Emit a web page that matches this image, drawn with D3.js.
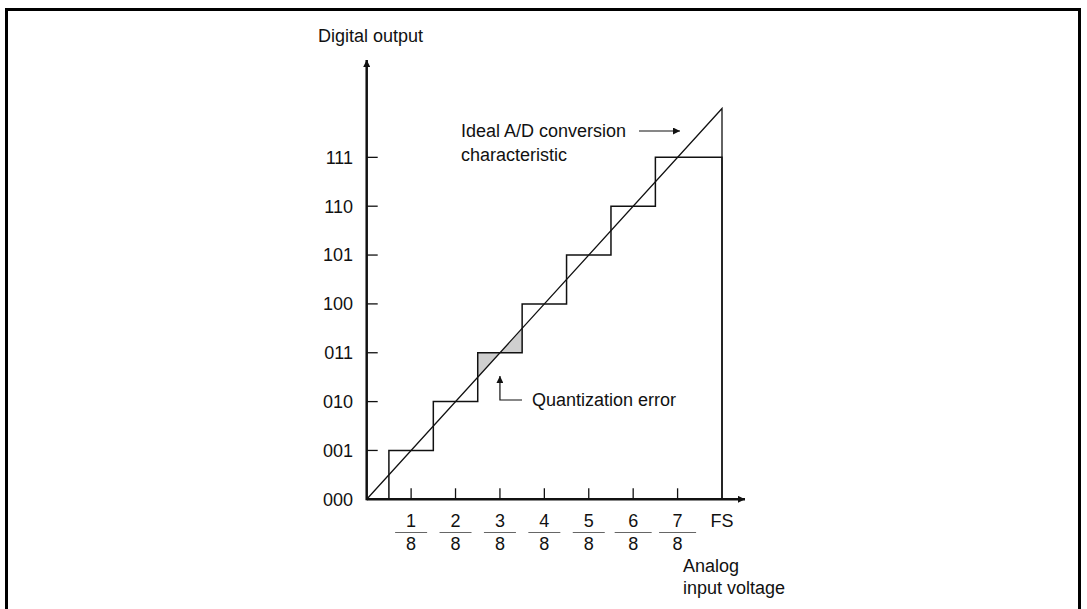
<!DOCTYPE html>
<html>
<head>
<meta charset="utf-8">
<script src="https://cdn.jsdelivr.net/npm/d3@7"></script>
<style>
  body { margin: 0; background: #fff; }
  text { font-family: "Liberation Sans", Arial, Helvetica, sans-serif; font-size: 18px; fill: #111; }
</style>
</head>
<body>
<div class="chart"></div>
<script>
'use strict'
// output codes, one per LSB level
var codes = ['000', '001', '010', '011', '100', '101', '110', '111']
// x tick labels (numerators over 8), then full scale
var numerators = ['1', '2', '3', '4', '5', '6', '7']
var denominator = '8'
var fullScaleLabel = 'FS'
// staircase: input (in 1/8 FS) where the code steps up, and the code reached
var stepInputs = [0.5, 1.5, 2.5, 3.5, 4.5, 5.5, 6.5]
var stepCodes = [1, 2, 3, 4, 5, 6, 7]
var fullScale = 8
// shaded quantization error example
var errorCode = 3
var errorRange = [2.5, 3.5]

var width = 1087
var height = 609

var svg = d3.select('.chart').append('svg')
  .attr('width', width)
  .attr('height', height)

var defs = svg.append('defs')
defs.append('marker')
  .attr('id', 'arrow')
  .attr('viewBox', '0 0 10 10')
  .attr('refX', 10).attr('refY', 5)
  .attr('markerWidth', 12).attr('markerHeight', 7)
  .attr('markerUnits', 'userSpaceOnUse')
  .attr('orient', 'auto')
  .append('path').attr('d', 'M0,0L10,5L0,10Z').attr('fill', '#111')

// frame
svg.append('rect')
  .attr('x', 6.5).attr('y', 9.5)
  .attr('width', 1073).attr('height', 700)
  .attr('fill', 'none').attr('stroke', '#000').attr('stroke-width', 3)

var x = d3.scaleLinear().domain([0, fullScale]).range([366.7, 722])
var y = d3.scaleLinear().domain([0, fullScale]).range([499.3, 108.5])

// shaded error (between ideal line and code level)
var area = d3.area()
  .x(function (d) { return x(d) })
  .y0(function (d) { return y(d) })
  .y1(y(errorCode))
svg.append('path')
  .attr('d', area(errorRange))
  .attr('fill', '#cfcfcf')
  .attr('stroke', 'none')

// staircase
var stairs = [[0, 0]]
stepInputs.forEach(function (v, i) { stairs.push([v, stepCodes[i]]) })
stairs.push([fullScale, stepCodes[stepCodes.length - 1]])
stairs.push([fullScale, 0])
var stepLine = d3.line()
  .x(function (d) { return x(d[0]) })
  .y(function (d) { return y(d[1]) })
  .curve(d3.curveStepAfter)
svg.append('path')
  .attr('d', stepLine(stairs))
  .attr('fill', 'none')
  .attr('stroke', '#111')
  .attr('stroke-width', 1.5)

// ideal characteristic and full-scale line
var plain = d3.line()
  .x(function (d) { return x(d[0]) })
  .y(function (d) { return y(d[1]) })
svg.append('path')
  .attr('d', plain([[0, 0], [fullScale, fullScale], [fullScale, 0]]))
  .attr('fill', 'none')
  .attr('stroke', '#111')
  .attr('stroke-width', 1.3)

// axes
svg.append('line')
  .attr('x1', x(0)).attr('y1', y(0))
  .attr('x2', 745).attr('y2', y(0))
  .attr('stroke', '#111').attr('stroke-width', 2.5)
  .attr('marker-end', 'url(#arrow)')
svg.append('line')
  .attr('x1', x(0)).attr('y1', y(0) + 1)
  .attr('x2', x(0)).attr('y2', 60)
  .attr('stroke', '#111').attr('stroke-width', 2.5)
  .attr('marker-end', 'url(#arrow)')

// y ticks and labels
svg.append('g').selectAll('line')
  .data(codes.slice(1))
  .enter().append('line')
  .attr('x1', x(0)).attr('x2', x(0) + 11)
  .attr('y1', function (d, i) { return y(i + 1) })
  .attr('y2', function (d, i) { return y(i + 1) })
  .attr('stroke', '#111').attr('stroke-width', 1.3)
svg.append('g').selectAll('text')
  .data(codes)
  .enter().append('text')
  .attr('x', 353)
  .attr('y', function (d, i) { return y(i) })
  .attr('dy', '0.35em')
  .attr('text-anchor', 'end')
  .text(function (d) { return d })

// x ticks and fraction labels
var xt = svg.append('g')
xt.selectAll('line.tick')
  .data(numerators)
  .enter().append('line')
  .attr('class', 'tick')
  .attr('x1', function (d, i) { return x(i + 1) })
  .attr('x2', function (d, i) { return x(i + 1) })
  .attr('y1', y(0)).attr('y2', y(0) - 11)
  .attr('stroke', '#111').attr('stroke-width', 1.3)
xt.selectAll('text.num')
  .data(numerators)
  .enter().append('text')
  .attr('class', 'num')
  .attr('x', function (d, i) { return x(i + 1) })
  .attr('y', 521).attr('dy', '0.35em')
  .attr('text-anchor', 'middle')
  .text(function (d) { return d })
xt.selectAll('line.bar')
  .data(numerators)
  .enter().append('line')
  .attr('class', 'bar')
  .attr('x1', function (d, i) { return x(i + 1) - (i < 5 ? 16 : 18.5) })
  .attr('x2', function (d, i) { return x(i + 1) + (i < 5 ? 16 : 18.5) })
  .attr('y1', 532.5).attr('y2', 532.5)
  .attr('stroke', '#666').attr('stroke-width', 1.2)
xt.selectAll('text.den')
  .data(numerators)
  .enter().append('text')
  .attr('class', 'den')
  .attr('x', function (d, i) { return x(i + 1) })
  .attr('y', 543.5).attr('dy', '0.35em')
  .attr('text-anchor', 'middle')
  .text(denominator)
xt.append('text')
  .attr('x', x(fullScale)).attr('y', 521).attr('dy', '0.35em')
  .attr('text-anchor', 'middle')
  .text(fullScaleLabel)

// axis titles
svg.append('text').attr('x', 318).attr('y', 42).text('Digital output')
svg.append('text').attr('x', 683).attr('y', 566).attr('dy', '0.35em').text('Analog')
svg.append('text').attr('x', 683).attr('y', 588).attr('dy', '0.35em').text('input voltage')

// annotations
svg.append('text').attr('x', 461).attr('y', 131).attr('dy', '0.35em').text('Ideal A/D conversion')
svg.append('text').attr('x', 461).attr('y', 155).attr('dy', '0.35em').text('characteristic')
svg.append('line')
  .attr('x1', 639).attr('y1', 131).attr('x2', 680).attr('y2', 131)
  .attr('stroke', '#111').attr('stroke-width', 1.2)
  .attr('marker-end', 'url(#arrow)')

svg.append('path')
  .attr('d', 'M522,400H' + x(3) + 'V376')
  .attr('fill', 'none')
  .attr('stroke', '#111').attr('stroke-width', 1.2)
  .attr('marker-end', 'url(#arrow)')
svg.append('text').attr('x', 532).attr('y', 400).attr('dy', '0.35em').text('Quantization error')
</script>
</body>
</html>
